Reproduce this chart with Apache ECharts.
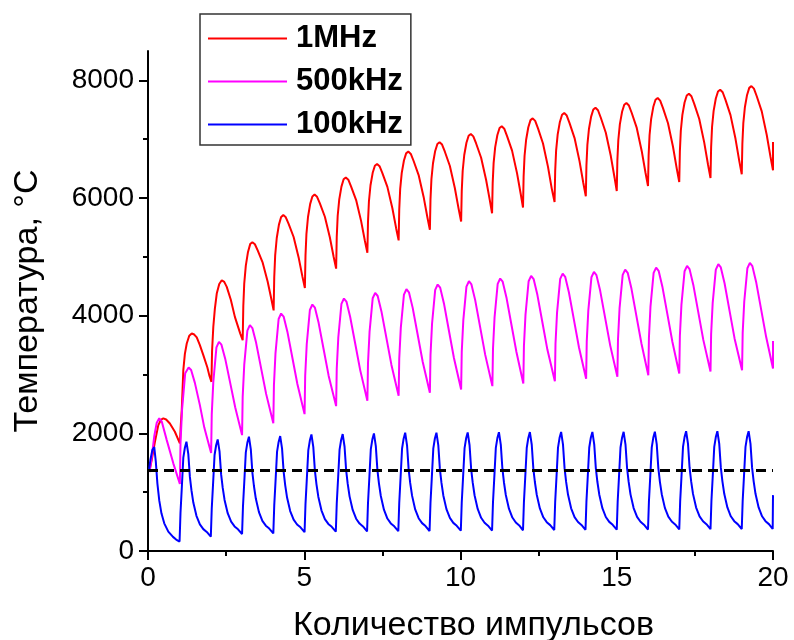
<!DOCTYPE html>
<html>
<head>
<meta charset="utf-8">
<script src="https://cdn.jsdelivr.net/npm/echarts@6/dist/echarts.min.js"></script>
<style>
html,body{margin:0;padding:0;background:#fff;}
#chart{width:794px;height:640px;}
</style>
</head>
<body>
<div id="chart"></div>
<script>
// ---- data ----
const seriesNames = ['1MHz', '500kHz', '100kHz'];

const mhz1 = [
[0.05,1370],[0.12,1550],[0.22,1850],[0.33,2140],[0.42,2235],[0.49,2254],[0.58,2235],[0.7,2168],[0.86,2027],
[1.02,1830],[1.05,2150],[1.08,2395],[1.13,3074],[1.18,3350],[1.24,3528],[1.32,3660],[1.4,3698],[1.48,3680],[1.56,3630],[1.66,3500],[1.77,3329],[1.9,3120],[1.96,2990],
[2.03,2876],[2.05,3400],[2.09,3812],[2.14,4120],[2.2,4377],[2.28,4540],[2.36,4603],[2.44,4575],[2.52,4490],[2.65,4270],[2.78,3980],[2.95,3700],
[3.03,3585],[3.05,4168],[3.08,4551],[3.13,4850],[3.2,5084],[3.27,5217],[3.34,5250],[3.42,5215],[3.51,5111],[3.67,4902],[3.83,4577],[3.95,4276],
[4.02,4090],[4.04,4657],[4.07,5030],[4.12,5321],[4.19,5548],[4.26,5678],[4.33,5710],[4.41,5673],[4.5,5561],[4.66,5338],[4.82,4991],[4.94,4668],
[5.02,4470],[5.04,5027],[5.07,5392],[5.12,5678],[5.19,5901],[5.26,6028],[5.33,6060],[5.41,6022],[5.5,5909],[5.66,5682],[5.82,5329],[5.94,5002],
[6.02,4800],[6.04,5343],[6.07,5699],[6.12,5978],[6.19,6195],[6.26,6319],[6.33,6350],[6.41,6312],[6.5,6196],[6.66,5966],[6.82,5608],[6.94,5275],
[7.02,5070],[7.04,5599],[7.07,5946],[7.12,6218],[7.19,6429],[7.26,6550],[7.33,6580],[7.41,6541],[7.5,6424],[7.66,6190],[7.82,5826],[7.94,5488],
[8.02,5280],[8.04,5809],[8.07,6156],[8.12,6428],[8.19,6639],[8.26,6760],[8.33,6790],[8.41,6750],[8.5,6630],[8.66,6391],[8.82,6019],[8.94,5673],
[9.02,5460],[9.04,5982],[9.07,6324],[9.12,6592],[9.19,6801],[9.26,6920],[9.33,6950],[9.41,6909],[9.5,6788],[9.66,6545],[9.82,6167],[9.94,5816],
[10.02,5600],[10.04,6122],[10.07,6464],[10.12,6732],[10.19,6941],[10.26,7060],[10.33,7090],[10.41,7049],[10.5,6928],[10.66,6685],[10.82,6307],[10.94,5956],
[11.01,5740],[11.03,6258],[11.06,6598],[11.11,6865],[11.18,7072],[11.25,7190],[11.32,7220],[11.4,7179],[11.49,7054],[11.65,6806],[11.81,6420],[11.93,6061],
[12.0,5840],[12.02,6370],[12.05,6719],[12.1,6991],[12.17,7204],[12.24,7325],[12.31,7355],[12.39,7312],[12.48,7184],[12.64,6928],[12.8,6530],[12.92,6161],
[13.01,5933],[13.03,6462],[13.06,6810],[13.11,7082],[13.18,7294],[13.25,7415],[13.32,7445],[13.4,7403],[13.49,7275],[13.65,7020],[13.81,6624],[13.93,6256],
[14.01,6030],[14.03,6557],[14.06,6903],[14.11,7174],[14.18,7385],[14.25,7505],[14.32,7535],[14.4,7493],[14.49,7365],[14.65,7110],[14.81,6714],[14.93,6346],
[15.0,6120],[15.02,6643],[15.05,6987],[15.1,7256],[15.17,7466],[15.24,7585],[15.31,7615],[15.39,7573],[15.48,7446],[15.64,7192],[15.8,6797],[15.92,6431],
[16.0,6205],[16.02,6728],[16.05,7072],[16.1,7341],[16.17,7551],[16.24,7670],[16.31,7700],[16.39,7657],[16.48,7529],[16.64,7272],[16.8,6872],[16.92,6501],
[17.0,6273],[17.02,6798],[17.05,7144],[17.1,7414],[17.17,7624],[17.24,7744],[17.31,7774],[17.39,7731],[17.48,7602],[17.64,7344],[17.8,6943],[17.92,6570],
[18.0,6341],[18.02,6866],[18.05,7212],[18.1,7482],[18.17,7692],[18.24,7812],[18.31,7842],[18.39,7799],[18.48,7669],[18.64,7410],[18.8,7007],[18.92,6633],
[19.0,6403],[19.02,6928],[19.05,7273],[19.1,7543],[19.17,7753],[19.24,7873],[19.31,7903],[19.39,7860],[19.48,7731],[19.64,7473],[19.8,7072],[19.92,6700],
[20.0,6471],[20.0,6952]
];

const khz500 = [
[0.05,1340],[0.12,1600],[0.2,1950],[0.28,2180],[0.36,2255],[0.44,2200],[0.6,1885],[0.81,1490],
[1.02,1138],[1.04,1832],[1.09,2406],[1.19,3021],[1.3,3120],[1.38,3076],[1.5,2858],[1.66,2480],[1.8,2102],[1.88,1941],
[2.02,1665],[2.04,2327],[2.09,2875],[2.19,3461],[2.27,3555],[2.35,3507],[2.47,3270],[2.63,2858],[2.79,2445],
[3.01,1970],[3.03,2625],[3.08,3167],[3.18,3747],[3.26,3840],[3.34,3790],[3.46,3539],[3.62,3105],[3.78,2671],
[4.01,2170],[4.03,2823],[4.08,3365],[4.18,3944],[4.26,4037],[4.34,3986],[4.46,3729],[4.62,3285],[4.78,2840],
[5.01,2327],[5.03,2979],[5.08,3519],[5.18,4097],[5.26,4190],[5.34,4138],[5.46,3879],[5.62,3430],[5.78,2981],
[6.02,2463],[6.04,3103],[6.09,3634],[6.19,4201],[6.27,4292],[6.35,4240],[6.47,3979],[6.63,3527],[6.79,3075],
[7.02,2554],[7.04,3196],[7.09,3728],[7.19,4296],[7.27,4388],[7.35,4335],[7.47,4073],[7.63,3618],[7.79,3163],
[8.02,2638],[8.04,3272],[8.09,3798],[8.19,4359],[8.27,4450],[8.35,4397],[8.47,4133],[8.63,3676],[8.79,3218],
[9.02,2690],[9.04,3334],[9.09,3868],[9.19,4438],[9.27,4530],[9.35,4476],[9.47,4209],[9.63,3745],[9.79,3281],
[10.02,2746],[10.04,3390],[10.09,3924],[10.19,4494],[10.27,4586],[10.35,4532],[10.47,4265],[10.63,3801],[10.79,3338],
[11.02,2803],[11.04,3443],[11.09,3974],[11.19,4541],[11.27,4632],[11.35,4578],[11.47,4311],[11.63,3847],[11.79,3383],
[12.01,2848],[12.03,3488],[12.08,4019],[12.18,4586],[12.26,4677],[12.34,4623],[12.46,4355],[12.62,3889],[12.78,3424],
[13.02,2887],[13.04,3527],[13.09,4058],[13.19,4625],[13.27,4716],[13.35,4662],[13.47,4394],[13.63,3929],[13.79,3464],
[14.02,2927],[14.04,3563],[14.09,4090],[14.19,4653],[14.27,4744],[14.35,4690],[14.47,4423],[14.63,3959],[14.79,3496],
[15.02,2961],[15.04,3599],[15.09,4128],[15.19,4693],[15.27,4784],[15.35,4730],[15.47,4461],[15.63,3994],[15.79,3527],
[16.01,2989],[16.03,3629],[16.08,4160],[16.18,4727],[16.26,4818],[16.34,4764],[16.46,4494],[16.62,4026],[16.78,3558],
[17.0,3018],[17.02,3658],[17.07,4188],[17.17,4755],[17.25,4846],[17.33,4792],[17.45,4523],[17.61,4056],[17.77,3589],
[18.0,3050],[18.02,3689],[18.07,4218],[18.17,4784],[18.25,4875],[18.33,4821],[18.45,4551],[18.61,4083],[18.77,3614],
[19.01,3074],[19.03,3712],[19.08,4241],[19.18,4806],[19.26,4897],[19.34,4843],[19.46,4574],[19.62,4108],[19.78,3641],
[20.0,3103],[20.0,3572]
];

const khz100 = [
[0.03,1370],[0.08,1560],[0.14,1720],[0.2,1765],[0.25,1520],[0.3,1150],[0.36,860],[0.43,640],[0.52,470],[0.65,330],[0.8,240],[0.9,195],
[1.01,160],[1.04,652],[1.08,1059],[1.13,1586],[1.18,1755],[1.23,1857],[1.29,1647],[1.34,1260],[1.39,1034],[1.45,824],[1.55,598],[1.66,453],[1.77,372],[1.88,324],
[2.01,243],[2.04,723],[2.08,1120],[2.13,1632],[2.18,1798],[2.23,1897],[2.29,1688],[2.34,1302],[2.39,1077],[2.45,868],[2.55,643],[2.66,498],[2.77,418],[2.88,369],
[3.01,289],[3.04,768],[3.08,1165],[3.13,1678],[3.18,1843],[3.23,1942],[3.29,1729],[3.34,1334],[3.39,1105],[3.45,891],[3.55,661],[3.66,513],[3.77,431],[3.88,382],
[4.01,300],[4.04,779],[4.08,1176],[4.13,1689],[4.18,1854],[4.23,1953],[4.29,1741],[4.34,1349],[4.39,1120],[4.45,908],[4.55,679],[4.66,532],[4.77,451],[4.88,402],
[5.01,320],[5.04,802],[5.08,1201],[5.13,1716],[5.18,1882],[5.23,1982],[5.29,1767],[5.34,1370],[5.39,1138],[5.45,923],[5.55,692],[5.66,543],[5.77,460],[5.88,411],
[6.01,328],[6.04,809],[6.08,1207],[6.13,1722],[6.18,1887],[6.23,1987],[6.29,1772],[6.34,1375],[6.39,1144],[6.45,929],[6.55,698],[6.66,549],[6.77,466],[6.88,417],
[7.01,334],[7.04,817],[7.08,1216],[7.13,1733],[7.18,1899],[7.23,1999],[7.29,1783],[7.34,1384],[7.39,1151],[7.45,935],[7.55,702],[7.66,552],[7.77,469],[7.88,419],
[8.01,336],[8.04,821],[8.08,1223],[8.13,1742],[8.18,1910],[8.23,2010],[8.29,1793],[8.34,1392],[8.39,1158],[8.45,941],[8.55,707],[8.66,557],[8.77,474],[8.88,424],
[9.01,340],[9.04,825],[9.08,1226],[9.13,1744],[9.18,1912],[9.23,2012],[9.29,1795],[9.34,1395],[9.39,1162],[9.45,945],[9.55,712],[9.66,562],[9.77,478],[9.88,428],
[10.01,345],[10.04,829],[10.08,1230],[10.13,1748],[10.18,1915],[10.23,2015],[10.29,1798],[10.34,1398],[10.39,1165],[10.45,948],[10.55,715],[10.66,565],[10.77,481],[10.88,431],
[11.01,348],[11.04,833],[11.08,1234],[11.13,1752],[11.18,1920],[11.23,2020],[11.29,1803],[11.34,1403],[11.39,1169],[11.45,952],[11.55,719],[11.66,569],[11.77,485],[11.88,435],
[12.0,352],[12.03,836],[12.07,1237],[12.12,1755],[12.17,1922],[12.22,2022],[12.28,1806],[12.33,1406],[12.38,1173],[12.44,956],[12.54,723],[12.65,573],[12.76,490],[12.87,440],
[13.0,357],[13.03,840],[13.07,1241],[13.12,1757],[13.17,1924],[13.22,2024],[13.28,1808],[13.33,1408],[13.38,1175],[13.44,959],[13.54,726],[13.65,576],[13.76,493],[13.87,443],
[14.0,360],[14.03,843],[14.07,1242],[14.12,1759],[14.17,1925],[14.22,2025],[14.28,1809],[14.33,1410],[14.38,1177],[14.44,961],[14.54,728],[14.65,578],[14.76,495],[14.87,445],
[15.0,362],[15.03,845],[15.07,1244],[15.12,1760],[15.17,1926],[15.22,2026],[15.28,1810],[15.33,1411],[15.38,1179],[15.44,963],[15.54,730],[15.65,581],[15.76,498],[15.87,448],
[16.0,365],[16.03,847],[16.07,1246],[16.12,1762],[16.17,1928],[16.22,2028],[16.28,1812],[16.33,1414],[16.38,1181],[16.44,966],[16.54,733],[16.65,584],[16.76,501],[16.87,451],
[17.0,368],[17.03,852],[17.07,1252],[17.12,1769],[17.17,1936],[17.22,2036],[17.28,1820],[17.33,1420],[17.38,1187],[17.44,971],[17.54,738],[17.65,588],[17.76,505],[17.87,455],
[18.0,372],[18.03,855],[18.07,1254],[18.12,1770],[18.17,1936],[18.22,2036],[18.28,1820],[18.33,1421],[18.38,1188],[18.44,972],[18.54,740],[18.65,590],[18.76,507],[18.87,457],
[19.0,374],[19.03,856],[19.07,1255],[19.12,1770],[19.17,1936],[19.22,2036],[19.28,1820],[19.33,1421],[19.38,1188],[19.44,972],[19.54,740],[19.65,590],[19.76,507],[19.87,457],
[19.99,374],[20.0,950]
];

const dashedLevel = [[0, 1370], [20, 1370]];

const yMajorTicks = [0, 2000, 4000, 6000, 8000];
const yMinorTicks = [1000, 3000, 5000, 7000];
const xAxisTitle = 'Количество импульсов';
const yAxisTitle = 'Температура, °C';

// ---- chart ----
const FONT = "'Liberation Sans', Arial, sans-serif";
const chart = echarts.init(document.getElementById('chart'), null, {renderer: 'canvas'});

const option = {
  animation: false,
  backgroundColor: '#ffffff',
  grid: {left: 148, right: 21, top: 51, bottom: 89, containLabel: false, outerBoundsMode: 'none'},
  legend: {
    data: seriesNames.map(function (n) { return {name: n, icon: 'rect'}; }),
    orient: 'vertical',
    left: 200, top: 14,
    itemWidth: 79, itemHeight: 2, itemGap: 12,
    padding: [9, 8, 5, 8],
    borderColor: '#333', borderWidth: 1.5,
    textStyle: {fontFamily: FONT, fontSize: 31, fontWeight: 'bold', color: '#000', lineHeight: 30, padding: [0, 0, 0, 4]}
  },
  xAxis: {
    type: 'value', min: 0, max: 20, interval: 5,
    name: xAxisTitle, nameLocation: 'middle', nameGap: 58,
    nameTextStyle: {fontFamily: FONT, fontSize: 34, color: '#000', padding: [0, 0, 0, 26]},
    axisLine: {show: true, onZero: false, lineStyle: {color: '#000', width: 2}},
    axisTick: {show: true, length: 9, lineStyle: {color: '#000', width: 2}},
    minorTick: {show: true, splitNumber: 2, length: 5, lineStyle: {color: '#000', width: 2}},
    axisLabel: {fontFamily: FONT, fontSize: 28, color: '#000', margin: 13},
    splitLine: {show: false}, minorSplitLine: {show: false}
  },
  yAxis: [
    {
      type: 'value', min: 0, max: 8500, position: 'left',
      name: yAxisTitle, nameLocation: 'middle', nameGap: 103,
      nameTextStyle: {fontFamily: FONT, fontSize: 34, color: '#000'},
      axisLine: {show: true, onZero: false, lineStyle: {color: '#000', width: 2}},
      axisTick: {show: true, length: 9, customValues: yMajorTicks, lineStyle: {color: '#000', width: 2}},
      axisLabel: {fontFamily: FONT, fontSize: 28, color: '#000', margin: 14, customValues: yMajorTicks,
                  formatter: function (v) { return String(v); }},
      splitLine: {show: false}
    },
    {
      type: 'value', min: 0, max: 8500, position: 'left',
      axisLine: {show: false},
      axisTick: {show: true, length: 5, customValues: yMinorTicks, lineStyle: {color: '#000', width: 2}},
      axisLabel: {show: false},
      splitLine: {show: false}
    }
  ],
  series: [
    {name: seriesNames[0], type: 'line', data: mhz1, showSymbol: false, symbol: 'none',
     lineStyle: {color: '#ff0000', width: 2}, itemStyle: {color: '#ff0000'}, z: 3},
    {name: seriesNames[1], type: 'line', data: khz500, showSymbol: false, symbol: 'none',
     lineStyle: {color: '#ff00ff', width: 2}, itemStyle: {color: '#ff00ff'}, z: 3},
    {name: seriesNames[2], type: 'line', data: khz100, showSymbol: false, symbol: 'none',
     lineStyle: {color: '#0000ff', width: 2}, itemStyle: {color: '#0000ff'}, z: 3},
    {name: 'level', type: 'line', data: dashedLevel, showSymbol: false, symbol: 'none',
     lineStyle: {color: '#000', width: 3, type: [10, 6]}, z: 4}
  ]
};
chart.setOption(option);
</script>
</body>
</html>
